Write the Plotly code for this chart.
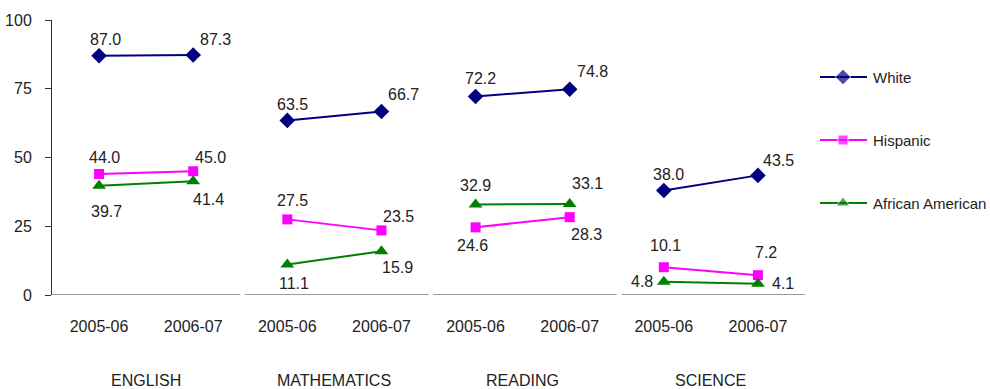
import plotly.graph_objects as go

# Subjects and school years
subjects = ["ENGLISH", "MATHEMATICS", "READING", "SCIENCE"]
years = ["2005-06", "2006-07"]

# Percent by group, ordered subject by subject, year by year
white = [87.0, 87.3, 63.5, 66.7, 72.2, 74.8, 38.0, 43.5]
hispanic = [44.0, 45.0, 27.5, 23.5, 24.6, 28.3, 10.1, 7.2]
african_american = [39.7, 41.4, 11.1, 15.9, 32.9, 33.1, 4.8, 4.1]

y_ticks = [0, 25, 50, 75, 100]

FONT = "Liberation Sans, Arial, sans-serif"
TEXT_COLOR = "#222222"
AXIS_COLOR = "#333333"
FS = 16
LEGEND_FS = 15

W, H = 990, 389
L, R, T, B = 52, 0, 20, 94
PLOT_RIGHT = 805  # right edge of the chart area in px
paper_w = W - L - R
main_dom = (PLOT_RIGHT - L) / paper_w
legend_left = 812
legend_dom = (legend_left - L) / paper_w

series = [
    ("White", white, "#000080", "diamond", 12),
    ("Hispanic", hispanic, "#FF00FF", "square", 10),
    ("African American", african_american, "#008000", "triangle-up", 12),
]

# pixel offsets of each value label from its point
label_offsets = {
    "White": [(6, 16), (22, 15), (5, 16), (22, 17), (5, 18), (23, 18), (5, 16), (21, 15)],
    "Hispanic": [(5, 17), (17, 14), (5, 19), (17, 14), (-3, -18), (17, -17), (2, 22), (8, 23)],
    "African American": [(7, -26), (15, -18), (7, -19), (16, -16), (0, 19), (18, 20), (-22, 0), (25, 0)],
}

# legend rows (pixel y of each row centre) on the side panel
legend_rows = [77, 140, 203]

# x positions: category centres, with a break between subjects
n_cat = len(subjects) * len(years)
x_centres = [i + 0.5 for i in range(n_cat)]


def broken(values):
    xs, ys = [], []
    for s in range(len(subjects)):
        for j in range(len(years)):
            k = s * len(years) + j
            xs.append(x_centres[k])
            ys.append(values[k])
        xs.append(None)
        ys.append(None)
    return xs, ys


fig = go.Figure()
annotations = []
for idx, (name, vals, color, symbol, size) in enumerate(series):
    xs, ys = broken(vals)
    fig.add_trace(go.Scatter(
        x=xs, y=ys, mode="lines+markers", name=name, showlegend=False,
        connectgaps=False,
        line=dict(color=color, width=2),
        marker=dict(symbol=symbol, size=size, color=color),
        hoverinfo="skip",
    ))
    for k, v in enumerate(vals):
        dx, dy = label_offsets[name][k]
        annotations.append(dict(
            x=x_centres[k], y=v, xref="x", yref="y", text=f"{v:.1f}",
            showarrow=False, xanchor="center", yanchor="middle",
            xshift=dx, yshift=dy,
            font=dict(family=FONT, size=FS, color=TEXT_COLOR),
        ))

    # legend key: short line with the marker in the middle
    ly = legend_rows[idx]
    fig.add_trace(go.Scatter(
        x=[820, 843, 867], y=[ly, ly, ly], xaxis="x2", yaxis="y2",
        mode="lines+markers", showlegend=False, hoverinfo="skip",
        line=dict(color=color, width=2),
        marker=dict(symbol=symbol, size=[0, size, 0], color=color),
    ))
    annotations.append(dict(
        x=871, y=ly, xref="x2", yref="y2", text=name, showarrow=False,
        xanchor="left", yanchor="middle",
        font=dict(family=FONT, size=LEGEND_FS, color=TEXT_COLOR),
    ))

# subject names under the year labels
for s, subj in enumerate(subjects):
    annotations.append(dict(
        x=s * 2 + 1, y=-0.31, xref="x", yref="paper", text=subj,
        showarrow=False, xanchor="center", yanchor="middle",
        font=dict(family=FONT, size=FS, color=TEXT_COLOR),
    ))

# segmented category axis with a short gap between subjects
shapes = []
gap = 0.05
for s in range(len(subjects)):
    start = s * 2 + (gap if s > 0 else 0)
    end = s * 2 + 2
    shapes.append(dict(type="line", xref="x", yref="y", x0=start, x1=end, y0=0, y1=0,
                       line=dict(color=AXIS_COLOR, width=1)))
    for t in (s * 2 + 1, s * 2 + 2):
        shapes.append(dict(type="line", xref="x", yref="y", ysizemode="pixel", yanchor=0,
                           x0=t, x1=t, y0=0, y1=-7, line=dict(color=AXIS_COLOR, width=1)))
shapes.append(dict(type="line", xref="x", yref="y", ysizemode="pixel", yanchor=0,
                   x0=0, x1=0, y0=0, y1=-7, line=dict(color=AXIS_COLOR, width=1)))

fig.update_layout(
    width=W, height=H,
    margin=dict(l=L, r=R, t=T, b=B),
    paper_bgcolor="white", plot_bgcolor="white",
    font=dict(family=FONT, size=FS, color=TEXT_COLOR),
    showlegend=False,
    xaxis=dict(
        domain=[0, main_dom],
        range=[0, n_cat], showgrid=False, zeroline=False, showline=False,
        tickvals=x_centres, ticktext=years * len(subjects), ticks="",
        ticklabelstandoff=20,
        tickfont=dict(family=FONT, size=FS, color=TEXT_COLOR),
    ),
    yaxis=dict(
        range=[0, 100], tickvals=y_ticks, showgrid=False, zeroline=False,
        showline=True, linecolor=AXIS_COLOR, linewidth=1,
        ticks="outside", ticklen=6, tickcolor=AXIS_COLOR,
        ticklabelstandoff=10,
        tickfont=dict(family=FONT, size=FS, color=TEXT_COLOR),
    ),
    # side panel for the legend, measured in pixels
    xaxis2=dict(domain=[legend_dom, 1], range=[legend_left, W], visible=False, fixedrange=True),
    yaxis2=dict(domain=[0, 1], range=[H - B, T], visible=False, fixedrange=True,
                anchor="x2"),
    annotations=annotations,
    shapes=shapes,
)

fig.write_html("out.html")
